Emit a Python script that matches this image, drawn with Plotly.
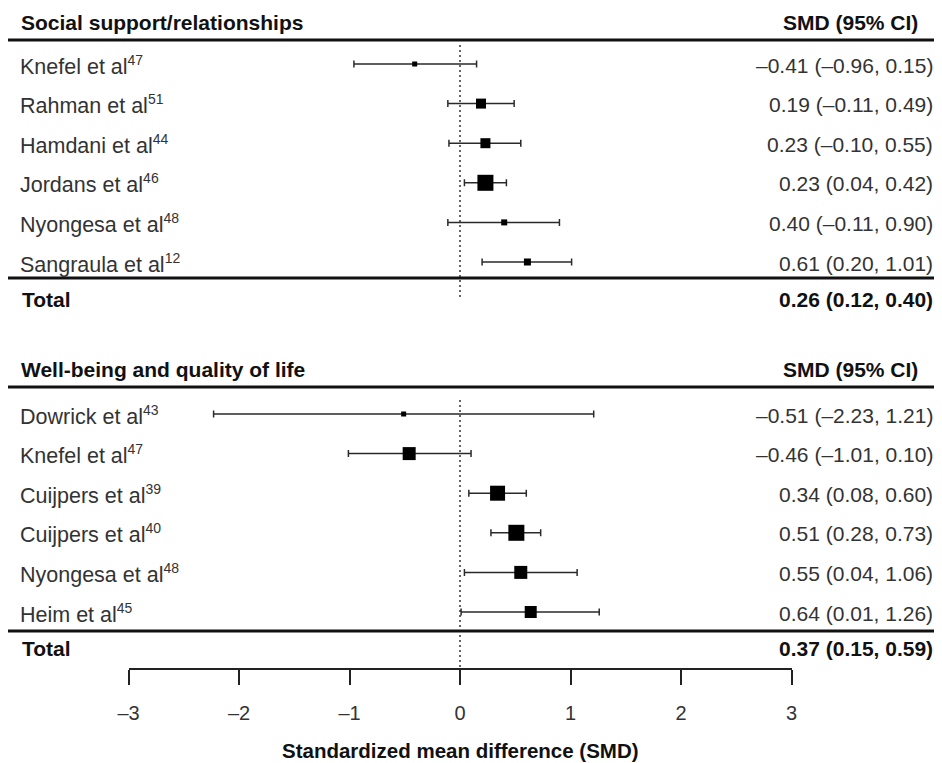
import plotly.graph_objects as go

# ---------------- data ----------------
sec1_title = "Social support/relationships"
sec1_names = ["Knefel et al", "Rahman et al", "Hamdani et al", "Jordans et al", "Nyongesa et al", "Sangraula et al"]
sec1_refs = ["47", "51", "44", "46", "48", "12"]
sec1_smd = [-0.41, 0.19, 0.23, 0.23, 0.40, 0.61]
sec1_lo = [-0.96, -0.11, -0.10, 0.04, -0.11, 0.20]
sec1_hi = [0.15, 0.49, 0.55, 0.42, 0.90, 1.01]
sec1_weight = [5, 10, 10, 16, 6, 7]          # relative box size (study weight)
sec1_total = [0.26, 0.12, 0.40]

sec2_title = "Well-being and quality of life"
sec2_names = ["Dowrick et al", "Knefel et al", "Cuijpers et al", "Cuijpers et al", "Nyongesa et al", "Heim et al"]
sec2_refs = ["43", "47", "39", "40", "48", "45"]
sec2_smd = [-0.51, -0.46, 0.34, 0.51, 0.55, 0.64]
sec2_lo = [-2.23, -1.01, 0.08, 0.28, 0.04, 0.01]
sec2_hi = [1.21, 0.10, 0.60, 0.73, 1.06, 1.26]
sec2_weight = [5, 13, 15, 16, 13, 12]
sec2_total = [0.37, 0.15, 0.59]

col_header = "SMD (95% CI)"
x_title = "Standardized mean difference (SMD)"
tick_vals = [-3, -2, -1, 0, 1, 2, 3]
tick_text = ["–3", "–2", "–1", "0", "1", "2", "3"]

# ---------------- layout constants (pixels of the target picture) ----------------
VIEW_W, VIEW_H = 942, 763
OFF = 8                      # page body margin of the browser
W, H = VIEW_W - OFF, VIEW_H - OFF
FONT = "Liberation Sans, Arial, sans-serif"
AXIS_Y = 668
ROW_H = 39.6
sections = [
    dict(title=sec1_title, names=sec1_names, refs=sec1_refs, smd=sec1_smd, lo=sec1_lo, hi=sec1_hi,
         w=sec1_weight, total=sec1_total, head_y=22, top_line=40, first=64, bot_line=278,
         total_y=299, dot=(45, 297)),
    dict(title=sec2_title, names=sec2_names, refs=sec2_refs, smd=sec2_smd, lo=sec2_lo, hi=sec2_hi,
         w=sec2_weight, total=sec2_total, head_y=369, top_line=387, first=414, bot_line=631,
         total_y=648, dot=(400, AXIS_Y)),
]


def fmt(v):
    return f"{v:.2f}".replace("-", "–")


def px(xp):
    return (xp - OFF) / W


fig = go.Figure()
shapes = []
annotations = []

for s in sections:
    ys = [s["first"] + i * ROW_H for i in range(len(s["names"]))]
    fig.add_trace(go.Scatter(
        x=s["smd"], y=ys, mode="markers",
        marker=dict(symbol="square", size=s["w"], color="#000", opacity=1, line=dict(width=0)),
        error_x=dict(type="data", symmetric=False,
                     array=[h - m for h, m in zip(s["hi"], s["smd"])],
                     arrayminus=[m - l for m, l in zip(s["smd"], s["lo"])],
                     thickness=1.5, width=3.5, color="#2a2a2a"),
        showlegend=False, hoverinfo="skip", cliponaxis=False,
    ))
    # header
    annotations.append(dict(text=f"<b>{s['title']}</b>", x=px(19), xref="paper", xanchor="left",
                            y=s["head_y"], yref="y", yanchor="middle", showarrow=False,
                            font=dict(family=FONT, size=21, color="#111")))
    annotations.append(dict(text=f"<b>{col_header}</b>", x=px(920), xref="paper", xanchor="right",
                            y=s["head_y"], yref="y", yanchor="middle", showarrow=False,
                            font=dict(family=FONT, size=21, color="#111")))
    # rows
    for name, ref, m, l, h, y in zip(s["names"], s["refs"], s["smd"], s["lo"], s["hi"], ys):
        annotations.append(dict(text=f"{name}<sup><span style='font-size:14px'>{ref}</span></sup>",
                                x=px(18), xref="paper", xanchor="left",
                                y=y + 1, yref="y", yanchor="middle", showarrow=False,
                                font=dict(family=FONT, size=21.5, color="#333")))
        annotations.append(dict(text=f"{fmt(m)} ({fmt(l)}, {fmt(h)})", x=px(935), xref="paper",
                                xanchor="right", y=y + 1, yref="y", yanchor="middle", showarrow=False,
                                font=dict(family=FONT, size=21, color="#333")))
    # total
    t = s["total"]
    annotations.append(dict(text="<b>Total</b>", x=px(20), xref="paper", xanchor="left",
                            y=s["total_y"], yref="y", yanchor="middle", showarrow=False,
                            font=dict(family=FONT, size=21, color="#111")))
    annotations.append(dict(text=f"<b>{fmt(t[0])} ({fmt(t[1])}, {fmt(t[2])})</b>", x=px(935), xref="paper",
                            xanchor="right", y=s["total_y"], yref="y", yanchor="middle", showarrow=False,
                            font=dict(family=FONT, size=21, color="#111")))
    # horizontal rules
    for yl in (s["top_line"], s["bot_line"]):
        shapes.append(dict(type="line", xref="paper", x0=px(8), x1=1, yref="y", y0=yl, y1=yl,
                           line=dict(color="#111", width=3)))
    # zero reference line
    shapes.append(dict(type="line", xref="x", x0=0, x1=0, yref="y", y0=s["dot"][0], y1=s["dot"][1],
                       line=dict(color="#333", width=1.5, dash="2px,3px"), layer="below"))

# axis title as annotation (keeps margins fixed)
annotations.append(dict(text=f"<b>{x_title}</b>", x=0, xref="x", xanchor="center",
                        y=(AXIS_Y - 750) / (AXIS_Y - OFF), yref="paper", yanchor="middle", showarrow=False,
                        font=dict(family=FONT, size=20.5, color="#111")))

fig.update_layout(
    width=W, height=H,
    margin=dict(l=0, r=0, t=0, b=VIEW_H - AXIS_Y, pad=0, autoexpand=False),
    paper_bgcolor="white", plot_bgcolor="white",
    shapes=shapes, annotations=annotations,
    xaxis=dict(domain=[px(128.5), px(791.5)], range=[-3, 3], showgrid=False, zeroline=False,
               automargin=False, fixedrange=True,
               showline=True, linecolor="#222", linewidth=1.5,
               ticks="outside", ticklen=15, tickwidth=1.5, tickcolor="#222",
               tickvals=tick_vals, ticktext=tick_text, ticklabelstandoff=11,
               tickfont=dict(family=FONT, size=20, color="#333")),
    yaxis=dict(range=[AXIS_Y, OFF], visible=False, domain=[0, 1], automargin=False, fixedrange=True),
)

fig.write_html("out.html")
